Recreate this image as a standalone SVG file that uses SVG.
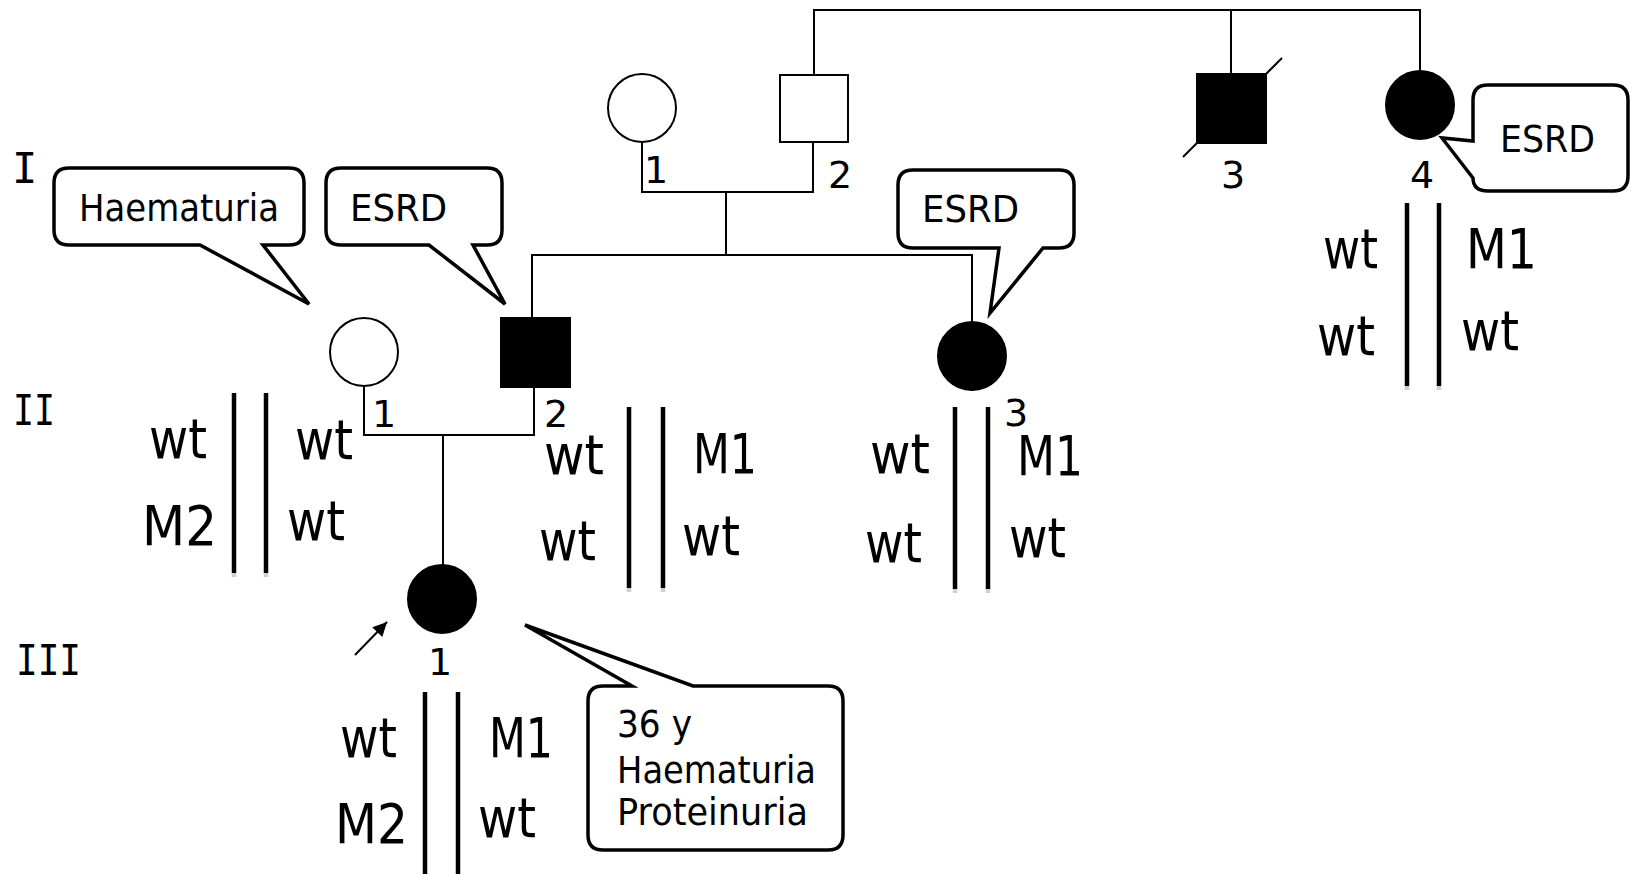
<svg xmlns="http://www.w3.org/2000/svg" width="1630" height="874" viewBox="0 0 1630 874">
  <style>
    .line { fill: none; stroke: #000; stroke-width: 2; }
    .open { fill: #fff; stroke: #000; stroke-width: 2; }
    .aff { fill: #000; stroke: #000; stroke-width: 2; }
    .bubble { fill: #fff; stroke: #000; stroke-width: 3.5; stroke-linejoin: miter; stroke-miterlimit: 4; }
    .bar { stroke: #000; stroke-width: 4.5; }
    .barEnd { stroke: #d0d0d0; stroke-width: 4.5; }
    .note { font-family: "DejaVu Sans", "Liberation Sans", sans-serif; font-size: 37px; fill: #000; }
    .geno { font-family: "DejaVu Sans", "Liberation Sans", sans-serif; font-size: 56px; fill: #000; }
    .num { font-family: "DejaVu Sans", "Liberation Sans", sans-serif; font-size: 38px; fill: #000; text-anchor: middle; }
    .gen { font-family: "DejaVu Sans Mono", "Liberation Mono", monospace; font-size: 42px; fill: #000; }
  </style>
  <defs>
    <marker id="head" viewBox="0 0 10 10" refX="10" refY="5" markerWidth="16" markerHeight="14" markerUnits="userSpaceOnUse" orient="auto">
      <path d="M0,0 L10,5 L0,10 Z" fill="#000"/>
    </marker>
  </defs>
  <rect width="1630" height="874" fill="#fff"/>

  <!-- generation labels -->
  <g id="generations">
    <text class="gen" x="12" y="183">I</text>
    <text class="gen" x="13" y="425" textLength="42" lengthAdjust="spacingAndGlyphs">II</text>
    <text class="gen" x="16" y="675" textLength="65" lengthAdjust="spacingAndGlyphs">III</text>
  </g>

  <!-- connectors: marriage, sibship and descent lines -->
  <g id="connectors">
    <path class="line" d="M814,75 V10 H1420 V71"/>
    <path class="line" d="M1231,10 V74"/>
    <path class="line" d="M642,142 V192 H813 V142"/>
    <path class="line" d="M726,192 V255"/>
    <path class="line" d="M532,318 V255 H972 V322"/>
    <path class="line" d="M364,386 V435 H534 V387"/>
    <path class="line" d="M443,435 V565"/>
    <line x1="355" y1="655" x2="387" y2="622" stroke="#000" stroke-width="2" marker-end="url(#head)"/>
  </g>

  <!-- generation I -->
  <g id="I-1">
    <ellipse class="open" cx="642" cy="108" rx="34" ry="34"/>
    <text class="num" x="656" y="183">1</text>
  </g>
  <g id="I-2">
    <rect class="open" x="780" y="75" width="68" height="67"/>
    <text class="num" x="840" y="188">2</text>
  </g>
  <g id="I-3">
    <line x1="1183" y1="157" x2="1282" y2="58" stroke="#000" stroke-width="2"/>
    <rect class="aff" x="1197" y="74" width="69" height="69"/>
    <text class="num" x="1233" y="188">3</text>
  </g>
  <g id="I-4">
    <ellipse class="aff" cx="1420" cy="105" rx="34" ry="34"/>
    <text class="num" x="1422" y="188">4</text>
    <path class="bubble" d="M1488,85 H1613 Q1628,85 1628,100 V176 Q1628,191 1613,191 H1488 Q1473,191 1473,178 L1442,138 L1473,141 V100 Q1473,85 1488,85 Z"/>
    <text class="note" x="1500" y="152" textLength="95" lengthAdjust="spacingAndGlyphs">ESRD</text>
    <line class="bar" x1="1407" y1="203" x2="1407" y2="386"/>
    <line class="bar" x1="1439" y1="203" x2="1439" y2="386"/>
    <line class="barEnd" x1="1407" y1="386" x2="1407" y2="390"/>
    <line class="barEnd" x1="1439" y1="386" x2="1439" y2="390"/>
    <text class="geno" x="1323" y="268" textLength="55" lengthAdjust="spacingAndGlyphs">wt</text>
    <text class="geno" x="1466" y="268" textLength="71" lengthAdjust="spacingAndGlyphs">M1</text>
    <text class="geno" x="1317" y="355" textLength="58" lengthAdjust="spacingAndGlyphs">wt</text>
    <text class="geno" x="1461" y="350" textLength="58" lengthAdjust="spacingAndGlyphs">wt</text>
  </g>

  <!-- generation II -->
  <g id="II-1">
    <ellipse class="open" cx="364" cy="352" rx="34" ry="34"/>
    <text class="num" x="384" y="427">1</text>
    <path class="bubble" d="M69,168 H289 Q304,168 304,183 V230 Q304,245 289,245 H263 L309,304 L200,245 H69 Q54,245 54,230 V183 Q54,168 69,168 Z"/>
    <text class="note" x="79" y="221" textLength="200" lengthAdjust="spacingAndGlyphs">Haematuria</text>
    <line class="bar" x1="234" y1="393" x2="234" y2="573"/>
    <line class="bar" x1="266" y1="393" x2="266" y2="573"/>
    <line class="barEnd" x1="234" y1="573" x2="234" y2="577"/>
    <line class="barEnd" x1="266" y1="573" x2="266" y2="577"/>
    <text class="geno" x="149" y="458" textLength="58" lengthAdjust="spacingAndGlyphs">wt</text>
    <text class="geno" x="295" y="459" textLength="58" lengthAdjust="spacingAndGlyphs">wt</text>
    <text class="geno" x="142" y="545" textLength="75" lengthAdjust="spacingAndGlyphs">M2</text>
    <text class="geno" x="287" y="540" textLength="58" lengthAdjust="spacingAndGlyphs">wt</text>
  </g>
  <g id="II-2">
    <rect class="aff" x="501" y="318" width="69" height="69"/>
    <text class="num" x="556" y="427">2</text>
    <path class="bubble" d="M341,168 H487 Q502,168 502,183 V230 Q502,245 487,245 H473 L505,304 L429,245 H341 Q326,245 326,230 V183 Q326,168 341,168 Z"/>
    <text class="note" x="350" y="221" textLength="97" lengthAdjust="spacingAndGlyphs">ESRD</text>
    <line class="bar" x1="629" y1="407" x2="629" y2="588"/>
    <line class="bar" x1="663" y1="407" x2="663" y2="588"/>
    <line class="barEnd" x1="629" y1="588" x2="629" y2="592"/>
    <line class="barEnd" x1="663" y1="588" x2="663" y2="592"/>
    <text class="geno" x="544" y="474" textLength="60" lengthAdjust="spacingAndGlyphs">wt</text>
    <text class="geno" x="693" y="473" textLength="64" lengthAdjust="spacingAndGlyphs">M1</text>
    <text class="geno" x="539" y="560" textLength="57" lengthAdjust="spacingAndGlyphs">wt</text>
    <text class="geno" x="682" y="555" textLength="58" lengthAdjust="spacingAndGlyphs">wt</text>
  </g>
  <g id="II-3">
    <ellipse class="aff" cx="972" cy="356" rx="34" ry="34"/>
    <text class="num" x="1016" y="426">3</text>
    <path class="bubble" d="M913,170 H1059 Q1074,170 1074,185 V233 Q1074,248 1059,248 H1043 L990,313 L999,248 H913 Q898,248 898,233 V185 Q898,170 913,170 Z"/>
    <text class="note" x="922" y="222" textLength="97" lengthAdjust="spacingAndGlyphs">ESRD</text>
    <line class="bar" x1="955" y1="407" x2="955" y2="589"/>
    <line class="bar" x1="988" y1="407" x2="988" y2="589"/>
    <line class="barEnd" x1="955" y1="589" x2="955" y2="593"/>
    <line class="barEnd" x1="988" y1="589" x2="988" y2="593"/>
    <text class="geno" x="870" y="473" textLength="60" lengthAdjust="spacingAndGlyphs">wt</text>
    <text class="geno" x="1017" y="475" textLength="66" lengthAdjust="spacingAndGlyphs">M1</text>
    <text class="geno" x="865" y="562" textLength="57" lengthAdjust="spacingAndGlyphs">wt</text>
    <text class="geno" x="1009" y="557" textLength="57" lengthAdjust="spacingAndGlyphs">wt</text>
  </g>

  <!-- generation III (proband) -->
  <g id="III-1">
    <ellipse class="aff" cx="442" cy="599" rx="34" ry="34"/>
    <text class="num" x="440" y="675">1</text>
    <path class="bubble" d="M603,686 H632 L525,625 L693,686 H828 Q843,686 843,701 V835 Q843,850 828,850 H603 Q588,850 588,835 V701 Q588,686 603,686 Z"/>
    <text class="note" x="617" y="737" textLength="75" lengthAdjust="spacingAndGlyphs">36 y</text>
    <text class="note" x="617" y="783" textLength="199" lengthAdjust="spacingAndGlyphs">Haematuria</text>
    <text class="note" x="617" y="825" textLength="191" lengthAdjust="spacingAndGlyphs">Proteinuria</text>
    <line class="bar" x1="425" y1="692" x2="425" y2="874"/>
    <line class="bar" x1="458" y1="692" x2="458" y2="874"/>
    <text class="geno" x="340" y="757" textLength="57" lengthAdjust="spacingAndGlyphs">wt</text>
    <text class="geno" x="489" y="757" textLength="64" lengthAdjust="spacingAndGlyphs">M1</text>
    <text class="geno" x="335" y="843" textLength="73" lengthAdjust="spacingAndGlyphs">M2</text>
    <text class="geno" x="478" y="837" textLength="58" lengthAdjust="spacingAndGlyphs">wt</text>
  </g>
</svg>
